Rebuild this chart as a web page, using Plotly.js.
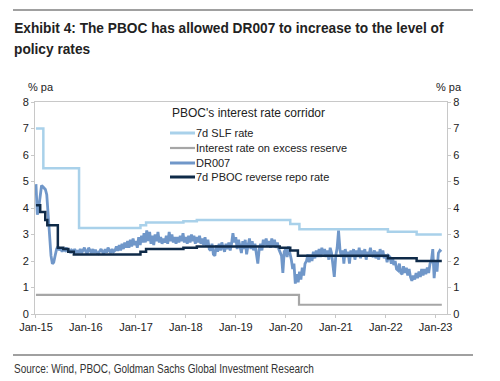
<!DOCTYPE html>
<html>
<head>
<meta charset="utf-8">
<script src="https://cdn.plot.ly/plotly-3.0.1.min.js"></script>
<style>
  html, body { margin: 0; padding: 0; background: #fff; }
  #chart { width: 500px; height: 381px; }
</style>
</head>
<body>
<div id="chart"></div>
<script>
// ---- Data ----
const slfDates = ["2015-01-01","2015-02-24","2015-11-12","2017-02-03","2017-03-16","2017-12-14","2018-03-22","2020-02-03","2020-04-10","2022-01-17","2022-08-15","2023-02-15"];
const slfRate  = [7.0, 5.5, 3.25, 3.35, 3.45, 3.5, 3.55, 3.4, 3.2, 3.1, 3.0, 3.0];

const ioerDates = ["2015-01-01","2020-04-07","2023-02-15"];
const ioerRate  = [0.72, 0.35, 0.35];

const repoDates = ["2015-01-01","2015-02-01","2015-03-10","2015-03-25","2015-06-10","2015-07-20","2015-08-25","2015-10-05","2017-02-03","2017-03-16","2017-12-14","2018-03-22","2019-11-18","2020-02-03","2020-03-30","2022-01-17","2022-08-15","2023-02-15"];
const repoRate  = [4.1, 3.85, 3.55, 3.35, 2.5, 2.45, 2.35, 2.25, 2.35, 2.45, 2.5, 2.55, 2.5, 2.4, 2.2, 2.1, 2.0, 2.0];

// DR007: three readings per month (1st, 11th, 21st)
const dr007_2015 = [4.9,3.75,4.0, 4.6,4.85,4.8, 4.75,4.7,4.5, 3.6,2.8,2.2, 1.9,1.95,2.2, 2.45,2.55,2.4, 2.5,2.35,2.45, 2.4,2.5,2.35, 2.45,2.3,2.4, 2.35,2.45,2.3, 2.4,2.3,2.45, 2.3,2.4,2.5];
const dr007_2016 = [2.35,2.28,2.5, 2.4,2.3,2.45, 2.3,2.42,2.32, 2.28,2.4,2.45, 2.35,2.28,2.45, 2.32,2.5,2.38, 2.3,2.45,2.35, 2.4,2.55,2.38, 2.6,2.4,2.65, 2.45,2.7,2.5, 2.75,2.5,2.8, 2.55,2.85,2.6];
const dr007_2017 = [2.75,2.5,2.9, 2.6,2.95,2.7, 3.05,2.7,3.15, 2.75,3.1,2.65, 2.95,2.6,3.0, 2.75,3.1,2.7, 2.9,2.65,2.85, 2.7,2.95,2.65, 3.1,2.75,3.0, 2.7,2.9,2.65, 2.9,2.7,2.95, 2.75,3.05,2.7];
const dr007_2018 = [2.9,2.65,2.95, 2.7,3.0,2.75, 2.95,2.65,2.9, 2.7,2.95,2.65, 2.85,2.6,2.9, 2.55,2.8,2.45, 2.4,2.65,2.25, 2.2,2.6,2.35, 2.65,2.4,2.7, 2.5,2.35,2.65, 2.45,2.7,2.4, 2.65,3.05,2.7];
const dr007_2019 = [2.9,2.45,2.8, 2.55,2.3,2.75, 2.45,2.8,2.25, 2.6,2.85,2.45, 2.75,2.4,2.65, 2.25,1.9,2.45, 2.65,2.4,2.8, 2.6,2.85,2.55, 2.75,2.5,2.85, 2.55,2.8,2.5, 2.7,2.45,2.35, 2.2,1.55,2.35];
const dr007_2020 = [2.45,2.15,2.55, 2.3,2.05,1.7, 1.9,1.15,1.5, 1.2,1.6,1.3, 1.75,1.45,1.9, 2.0,2.25,1.95, 2.25,2.0,2.35, 2.1,2.4,2.15, 2.45,2.15,2.5, 2.25,2.45,2.15, 2.4,2.05,2.5, 2.3,1.8,1.4];
const dr007_2021 = [2.2,2.5,3.15, 2.4,2.15,2.4, 1.9,2.45,2.15, 2.35,1.9,2.4, 2.15,2.45,2.05, 2.4,2.15,2.5, 2.1,2.4,2.2, 2.45,2.05,2.35, 2.2,2.5,2.25, 2.15,2.4,2.1, 2.35,2.05,2.45, 2.15,2.4,2.1];
const dr007_2022 = [2.25,1.95,2.2, 2.15,1.9,2.1, 1.85,2.0,1.7, 1.65,1.9,1.55, 1.5,1.8,1.55, 1.75,1.45,1.7, 1.4,1.25,1.45, 1.3,1.55,1.35, 1.6,1.4,1.7, 1.45,1.7,1.5, 1.75,1.55,1.9, 2.0,2.45,1.35];
const dr007_2023 = [2.0,1.6,2.3, 2.4,2.35];

const dr007Years = [2015,2016,2017,2018,2019,2020,2021,2022,2023];
const dr007Blocks = [dr007_2015,dr007_2016,dr007_2017,dr007_2018,dr007_2019,dr007_2020,dr007_2021,dr007_2022,dr007_2023];
const readingDays = ["01","11","21"];

const dr007Dates = [], dr007Vals = [];
dr007Blocks.forEach((block, bi) => {
  block.forEach((v, i) => {
    const m = String(Math.floor(i / 3) + 1).padStart(2, "0");
    dr007Dates.push(dr007Years[bi] + "-" + m + "-" + readingDays[i % 3]);
    dr007Vals.push(v);
  });
});

const seriesNames = ["7d SLF rate", "Interest rate on excess reserve", "DR007", "7d PBOC reverse repo rate"];
const seriesColors = ["#a9d1ea", "#a6a6a6", "#7097c9", "#0f2a48"];
const seriesWidths = [2.5, 2.2, 2.8, 2.5];

// ---- Traces ----
const traces = [
  {x: slfDates, y: slfRate, mode: "lines", line: {shape: "hv", color: seriesColors[0], width: seriesWidths[0]}, name: seriesNames[0]},
  {x: ioerDates, y: ioerRate, mode: "lines", line: {shape: "hv", color: seriesColors[1], width: seriesWidths[1]}, name: seriesNames[1]},
  {x: dr007Dates, y: dr007Vals, mode: "lines", line: {color: seriesColors[2], width: seriesWidths[2]}, name: seriesNames[2]},
  {x: repoDates, y: repoRate, mode: "lines", line: {shape: "hv", color: seriesColors[3], width: seriesWidths[3]}, name: seriesNames[3]},
  {x: ["2015-01-01"], y: [0], yaxis: "y2", mode: "lines", showlegend: false, hoverinfo: "skip", line: {width: 0}}
];

// ---- Layout helpers (pixel -> paper) ----
const L = 35, R = 447, T = 102, B = 314;
const px = X => (X - L) / (R - L);
const py = Y => (B - Y) / (B - T);

const axisFont = {family: "Liberation Sans, Arial, sans-serif", size: 11, color: "#222"};
const narrowBold = {family: "Liberation Sans, Arial, sans-serif", size: 14, color: "#222", weight: 700};

const annotations = [
  {text: "Exhibit 4: The PBOC has allowed DR007 to increase to the level of",
   xref: "paper", yref: "paper", x: px(12), y: py(28), xanchor: "left", yanchor: "middle", showarrow: false, font: narrowBold},
  {text: "policy rates",
   xref: "paper", yref: "paper", x: px(12), y: py(49), xanchor: "left", yanchor: "middle", showarrow: false, font: narrowBold},
  {text: "Source: Wind, PBOC, Goldman Sachs Global Investment Research",
   xref: "paper", yref: "paper", x: px(12), y: py(369), xanchor: "left", yanchor: "middle", showarrow: false,
   font: {family: "Liberation Sans, Arial, sans-serif", size: 12, color: "#333"}},
  {text: "% pa", xref: "paper", yref: "paper", x: px(26), y: py(87), xanchor: "left", yanchor: "middle", showarrow: false, font: axisFont},
  {text: "% pa", xref: "paper", yref: "paper", x: px(434), y: py(87), xanchor: "left", yanchor: "middle", showarrow: false, font: axisFont},
  {text: "PBOC's interest rate corridor", xref: "paper", yref: "paper", x: px(170), y: py(113), xanchor: "left", yanchor: "middle", showarrow: false,
   font: {family: axisFont.family, size: 12, color: "#222"}}
];
const legendY = [133, 148, 163, 177];
const shapes = [
  {type: "line", xref: "paper", yref: "paper", x0: px(13), x1: px(473), y0: py(10), y1: py(10), line: {color: "#a0a0a0", width: 2}},
  {type: "line", xref: "paper", yref: "paper", x0: px(13), x1: px(473), y0: py(355), y1: py(355), line: {color: "#a0a0a0", width: 2}}
];
seriesNames.forEach((n, i) => {
  shapes.push({type: "line", xref: "paper", yref: "paper", x0: px(170), x1: px(195), y0: py(legendY[i]), y1: py(legendY[i]),
               line: {color: seriesColors[i], width: i === 1 ? 2.2 : 3}});
  annotations.push({text: n, xref: "paper", yref: "paper", x: px(194), y: py(legendY[i]), xanchor: "left", yanchor: "middle",
                    showarrow: false, font: {family: axisFont.family, size: 11, color: "#222"}});
});

const layout = {
  width: 500, height: 381,
  margin: {l: L, r: 500 - R, t: T, b: 381 - B, pad: 0},
  paper_bgcolor: "#fff", plot_bgcolor: "#fff",
  showlegend: false,
  font: axisFont,
  xaxis: {
    type: "date", range: ["2014-12-25", "2023-03-25"],
    tick0: "2015-01-01", dtick: "M12", tickformat: "%b-%y",
    showgrid: false, zeroline: false,
    showline: true, linecolor: "#c8c8c8", linewidth: 1, mirror: true,
    ticks: "outside", ticklen: 3, tickcolor: "#c8c8c8", tickfont: axisFont
  },
  yaxis: {
    range: [0, 8], dtick: 1, showgrid: false, zeroline: false,
    showline: true, linecolor: "#c8c8c8", linewidth: 1,
    ticks: "outside", ticklen: 3, tickcolor: "#c8c8c8", tickfont: axisFont
  },
  yaxis2: {
    range: [0, 8], dtick: 1, overlaying: "y", side: "right", showgrid: false, zeroline: false,
    showline: true, linecolor: "#c8c8c8", linewidth: 1,
    ticks: "outside", ticklen: 3, tickcolor: "#c8c8c8", tickfont: axisFont
  },
  annotations: annotations,
  shapes: shapes
};

// Condense the title and source texts horizontally (the reference uses a narrow face)
function condense(gd) {
  const texts = gd.querySelectorAll(".annotation-text");
  const target = [{i: 0, w: 430}, {i: 2, w: 300}];
  let titleScale = 0.82;
  target.forEach(t => {
    const el = texts[t.i];
    if (!el) return;
    const bb = el.getBBox();
    const s = bb.width > 0 ? t.w / bb.width : 0.82;
    if (t.i === 0) titleScale = s;
    el.setAttribute("transform", `translate(${bb.x},0) scale(${s},1) translate(${-bb.x},0)`);
  });
  const el1 = texts[1];
  if (el1) {
    const bb = el1.getBBox();
    el1.setAttribute("transform", `translate(${bb.x},0) scale(${titleScale},1) translate(${-bb.x},0)`);
  }
}

Plotly.newPlot("chart", traces, layout, {displayModeBar: false, staticPlot: true}).then(condense);
</script>
</body>
</html>
